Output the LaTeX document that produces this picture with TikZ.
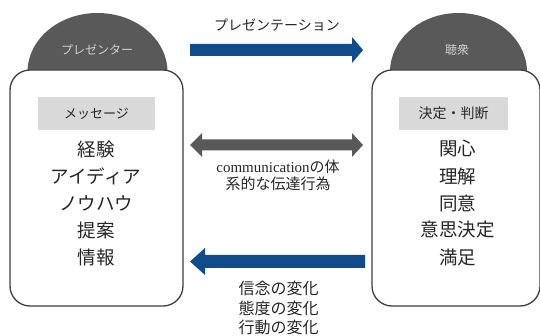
\documentclass[tikz,border=0pt]{standalone}
\usepackage{fontspec}
\setmainfont{Liberation Serif}
\newfontfamily\jp{Noto Sans CJK JP}
\newfontfamily\lat{Liberation Serif}
\definecolor{arrowblue}{RGB}{16,76,140}
\definecolor{darkgray}{HTML}{595959}
\definecolor{labelgray}{HTML}{D9D9D9}
\definecolor{boxline}{HTML}{404040}
\definecolor{txt}{HTML}{262626}
\definecolor{domeTxt}{HTML}{D0D0D0}
\begin{document}
\begin{tikzpicture}[x=1pt,y=-1pt,
  dome/.style={fill=darkgray},
  panel/.style={draw=boxline,line width=1.3pt,fill=white,rounded corners=20pt},
  labelbox/.style={fill=labelgray,inner sep=0pt,font=\jp\fontsize{13}{15}\selectfont,text=txt},
  item/.style={inner sep=0pt,font=\jp\fontsize{18.5}{22}\selectfont,text=txt},
  domelabel/.style={inner sep=0pt,font=\jp\fontsize{12}{14}\selectfont,text=domeTxt},
  caption/.style={inner sep=0pt,font=\jp\fontsize{14}{16}\selectfont,text=txt},
  bluearrow/.style={fill=arrowblue},
  grayarrow/.style={fill=darkgray}]
\useasboundingbox (0,0) rectangle (540,336);
% domes
\fill[dome] (97.5,72) ellipse [x radius=70, y radius=59];
\fill[dome] (458.5,72) ellipse [x radius=68.5, y radius=59];
% panels
\draw[panel] (10,70) rectangle (183,306);
\draw[panel] (372,70) rectangle (540,306);
\node[domelabel] (presenter) at (97,50) {プレゼンター};
\node[domelabel] (audience) at (457,50) {聴衆};
% label boxes
\node[labelbox,minimum width=117pt,minimum height=33pt] (msg) at (96.5,113.5) {メッセージ};
\node[labelbox,minimum width=109pt,minimum height=33pt,font=\jp\fontsize{14}{16}\selectfont] (dec) at (453.5,113.5) {決定・判断};
% lists
\foreach \t [count=\i] in {経験,アイディア,ノウハウ,提案,情報}
  \node[item] (L\i) at (96,122+27*\i) {\t};
\foreach \t [count=\i] in {関心,理解,同意,意思決定,満足}
  \node[item] (R\i) at (457.5,122+27*\i) {\t};
% top arrow
\coordinate (tA) at (190,50);
\coordinate (tB) at (363,50);
\fill[bluearrow] (tA) ++(0,-6) -- ++(162,0) -- ++(0,-7) -- (tB) -- ++(-11,13) -- ++(0,-7) -- ++(-162,0) -- cycle;
\node[caption] (pres) at (277,25) {プレゼンテーション};
% middle double arrow
\coordinate (mA) at (190,145);
\coordinate (mB) at (363,145);
\fill[grayarrow] (mA) -- ++(12,-12) -- ++(0,6.5) -- ++(150,0) -- ++(0,-6.5) -- (mB) -- ++(-11,12) -- ++(0,-6.5) -- ++(-150,0) -- ++(0,6.5) -- cycle;
\node[caption,font=\jp\fontsize{15}{17}\selectfont] (comm1) at (278,167) {{\lat communication}の体};
\node[caption,font=\jp\fontsize{15}{17}\selectfont] (comm2) at (278,184) {系的な伝達行為};
% bottom arrow
\coordinate (bA) at (190,261.5);
\coordinate (bB) at (365,261.5);
\fill[bluearrow] (bA) -- ++(15,-13.5) -- ++(0,7) -- ++(160,0) -- ++(0,13) -- ++(-160,0) -- ++(0,7) -- cycle;
\node[caption,font=\jp\fontsize{16}{18}\selectfont] (ch1) at (278.5,288) {信念の変化};
\node[caption,font=\jp\fontsize{16}{18}\selectfont] (ch2) at (278.5,308) {態度の変化};
\node[caption,font=\jp\fontsize{16}{18}\selectfont] (ch3) at (278.5,327) {行動の変化};
\end{tikzpicture}
\end{document}
